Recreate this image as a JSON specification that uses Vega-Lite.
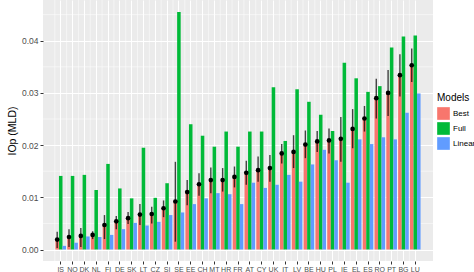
{
  "$schema": "https://vega.github.io/schema/vega-lite/v6.json",
  "width": 390,
  "height": 261,
  "autosize": {"type": "none"},
  "padding": {"left": 43, "top": 0, "right": 41, "bottom": 11},
  "background": "white",
  "config": {
    "font": "Liberation Sans",
    "view": {"fill": "#EBEBEB", "stroke": null},
    "axisY": {"grid": true, "gridColor": "white", "gridWidth": 1, "domain": false, "tickColor": "#333333", "tickSize": 3, "labelColor": "#4D4D4D", "labelFontSize": 8.5, "labelPadding": 2, "titleFontSize": 10.5, "titleFontWeight": "normal", "titleColor": "black", "titlePadding": 4},
    "axisX": {"grid": true, "gridColor": "white", "gridWidth": 1, "domain": false, "tickColor": "#333333", "tickSize": 3, "labelColor": "#4D4D4D", "labelFontSize": 7, "labelPadding": 1, "labelAngle": 0, "bandPosition": 0.5},
    "legend": {"titleFontSize": 10, "titleFontWeight": "normal", "titleColor": "black", "titlePadding": 4, "labelFontSize": 8, "labelColor": "black", "symbolType": "square", "symbolSize": 160, "symbolStrokeWidth": 0, "rowPadding": 2, "labelOffset": 3}
  },
  "datasets": {
    "iop": [
      {"c": "IS", "Best": 0.0019, "Full": 0.0141, "Linear": 0.0007, "lo": 0.0003, "hi": 0.0034},
      {"c": "NO", "Best": 0.0024, "Full": 0.0141, "Linear": 0.0013, "lo": 0.0005, "hi": 0.0039},
      {"c": "DK", "Best": 0.0026, "Full": 0.0143, "Linear": 0.0025, "lo": 0.0005, "hi": 0.0041},
      {"c": "NL", "Best": 0.0028, "Full": 0.0114, "Linear": 0.0024, "lo": 0.0020, "hi": 0.0035},
      {"c": "FI", "Best": 0.0047, "Full": 0.0164, "Linear": 0.0028, "lo": 0.0020, "hi": 0.0066},
      {"c": "DE", "Best": 0.0054, "Full": 0.0117, "Linear": 0.0039, "lo": 0.0039, "hi": 0.0064},
      {"c": "SK", "Best": 0.0060, "Full": 0.0098, "Linear": 0.0051, "lo": 0.0049, "hi": 0.0072},
      {"c": "LT", "Best": 0.0067, "Full": 0.0195, "Linear": 0.0046, "lo": 0.0047, "hi": 0.0087},
      {"c": "CZ", "Best": 0.0068, "Full": 0.0099, "Linear": 0.0053, "lo": 0.0050, "hi": 0.0082},
      {"c": "SI", "Best": 0.0079, "Full": 0.0127, "Linear": 0.0066, "lo": 0.0062, "hi": 0.0094},
      {"c": "SE", "Best": 0.0092, "Full": 0.0455, "Linear": 0.0071, "lo": 0.0015, "hi": 0.0168},
      {"c": "EE", "Best": 0.0110, "Full": 0.0240, "Linear": 0.0087, "lo": 0.0085, "hi": 0.0133},
      {"c": "CH", "Best": 0.0125, "Full": 0.0218, "Linear": 0.0098, "lo": 0.0103, "hi": 0.0146},
      {"c": "MT", "Best": 0.0133, "Full": 0.0197, "Linear": 0.0108, "lo": 0.0108, "hi": 0.0157},
      {"c": "HR", "Best": 0.0133, "Full": 0.0226, "Linear": 0.0106, "lo": 0.0111, "hi": 0.0156},
      {"c": "FR", "Best": 0.0139, "Full": 0.0197, "Linear": 0.0087, "lo": 0.0119, "hi": 0.0159},
      {"c": "AT", "Best": 0.0147, "Full": 0.0226, "Linear": 0.0128, "lo": 0.0124, "hi": 0.0170},
      {"c": "CY", "Best": 0.0152, "Full": 0.0226, "Linear": 0.0118, "lo": 0.0130, "hi": 0.0178},
      {"c": "UK", "Best": 0.0156, "Full": 0.0311, "Linear": 0.0124, "lo": 0.0130, "hi": 0.0181},
      {"c": "IT", "Best": 0.0184, "Full": 0.0208, "Linear": 0.0143, "lo": 0.0165, "hi": 0.0202},
      {"c": "LV", "Best": 0.0187, "Full": 0.0307, "Linear": 0.0130, "lo": 0.0156, "hi": 0.0219},
      {"c": "BE", "Best": 0.0201, "Full": 0.0283, "Linear": 0.0163, "lo": 0.0175, "hi": 0.0228},
      {"c": "HU", "Best": 0.0207, "Full": 0.0258, "Linear": 0.0191, "lo": 0.0187, "hi": 0.0227},
      {"c": "PL", "Best": 0.0209, "Full": 0.0227, "Linear": 0.0171, "lo": 0.0184, "hi": 0.0232},
      {"c": "IE", "Best": 0.0212, "Full": 0.0358, "Linear": 0.0128, "lo": 0.0168, "hi": 0.0254},
      {"c": "EL", "Best": 0.0231, "Full": 0.0328, "Linear": 0.0211, "lo": 0.0194, "hi": 0.0269},
      {"c": "ES", "Best": 0.0251, "Full": 0.0302, "Linear": 0.0202, "lo": 0.0226, "hi": 0.0275},
      {"c": "RO", "Best": 0.0290, "Full": 0.0313, "Linear": 0.0215, "lo": 0.0251, "hi": 0.0327},
      {"c": "PT", "Best": 0.0300, "Full": 0.0387, "Linear": 0.0211, "lo": 0.0256, "hi": 0.0344},
      {"c": "BG", "Best": 0.0334, "Full": 0.0408, "Linear": 0.0262, "lo": 0.0293, "hi": 0.0374},
      {"c": "LU", "Best": 0.0353, "Full": 0.0410, "Linear": 0.0299, "lo": 0.0321, "hi": 0.0385}
    ],
    "minor": [{"g": 0.005}, {"g": 0.015}, {"g": 0.025}, {"g": 0.035}, {"g": 0.045}]
  },
  "layer": [
    {
      "data": {"name": "minor"},
      "mark": {"type": "rule", "color": "white", "strokeWidth": 0.5},
      "encoding": {
        "y": {"field": "g", "type": "quantitative", "title": "IOp (MLD)", "scale": {"domain": [-0.0022, 0.0478], "nice": false, "zero": false}, "axis": {"values": [0, 0.01, 0.02, 0.03, 0.04], "format": ".2f"}}
      }
    },
    {
      "data": {"name": "iop"},
      "mark": {"type": "rule", "color": "white", "strokeWidth": 0.5},
      "encoding": {
        "x": {"field": "c", "type": "nominal", "sort": null, "title": null, "bandPosition": 0, "scale": {"paddingInner": 0, "paddingOuter": 1.5}}
      }
    },
    {
      "data": {"name": "iop"},
      "transform": [{"fold": ["Best", "Full", "Linear"], "as": ["model", "value"]}],
      "mark": {"type": "bar"},
      "encoding": {
        "x": {"field": "c", "type": "nominal", "sort": null, "title": null, "scale": {"paddingInner": 0, "paddingOuter": 1.5}},
        "xOffset": {"field": "model", "type": "nominal", "scale": {"domain": ["Best", "Full", "Linear"], "paddingInner": 0, "paddingOuter": 0.17}},
        "y": {"field": "value", "type": "quantitative", "title": "IOp (MLD)", "scale": {"domain": [-0.0022, 0.0478], "nice": false, "zero": false}, "axis": {"values": [0, 0.01, 0.02, 0.03, 0.04], "format": ".2f"}},
        "color": {"field": "model", "type": "nominal", "title": "Models", "scale": {"domain": ["Best", "Full", "Linear"], "range": ["#F8766D", "#00BA38", "#619CFF"]}, "legend": {"orient": "none", "legendX": 394, "legendY": 93}}
      }
    },
    {
      "data": {"name": "iop"},
      "mark": {"type": "rule", "color": "black", "opacity": 0.72, "strokeWidth": 1.4},
      "encoding": {
        "x": {"field": "c", "type": "nominal", "sort": null, "title": null},
        "xOffset": {"datum": "Best"},
        "y": {"field": "lo", "type": "quantitative", "title": "IOp (MLD)"},
        "y2": {"field": "hi"}
      }
    },
    {
      "data": {"name": "iop"},
      "mark": {"type": "point", "filled": true, "color": "black", "opacity": 1, "size": 22},
      "encoding": {
        "x": {"field": "c", "type": "nominal", "sort": null, "title": null},
        "xOffset": {"datum": "Best"},
        "y": {"field": "Best", "type": "quantitative", "title": "IOp (MLD)"}
      }
    }
  ]
}
